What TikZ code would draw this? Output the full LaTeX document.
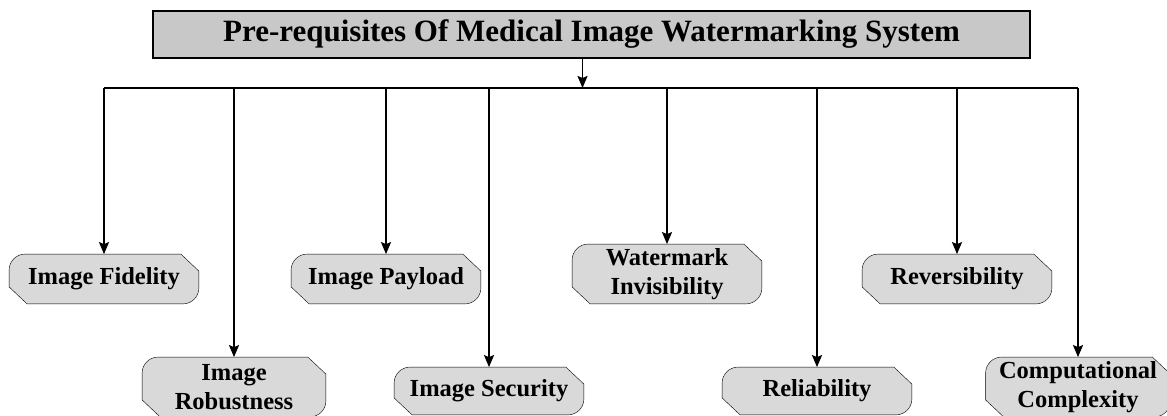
\documentclass[tikz,border=0pt]{standalone}
\usepackage{fontspec}
\setmainfont{Liberation Serif}
\usetikzlibrary{arrows.meta,backgrounds}
\definecolor{reqgray}{RGB}{217,217,217}
\definecolor{headgray}{RGB}{200,200,200}

\begin{document}
\begin{tikzpicture}[%
    x=1pt,y=1pt,->,>={Stealth[length=12pt,width=10pt,inset=2pt]},line width=1.8pt,
    req/.style={%
      minimum width=188pt,minimum height=48pt,inner sep=0pt,align=center,
      font=\fontsize{24.5}{29.5}\selectfont\bfseries},
    tall/.style={minimum height=58pt},
    headbox/.style={%
      draw,fill=headgray,line width=2.4pt,minimum width=877pt,minimum height=47pt,
      inner sep=0pt,font=\fontsize{31}{36}\selectfont\bfseries}
  ]
    \useasboundingbox (0,0) rectangle (1167,-415);

    \node[headbox] (head) at (591.5,-34.5) {Pre-requisites Of Medical Image Watermarking System};

    \node[req] (fid)  at (104,-279)                     {Image Fidelity};
    \node[req] (pay)  at (386,-279)                     {Image Payload};
    \node[req,tall] (inv) at (667,-274)                 {Watermark\\Invisibility};
    \node[req] (rev)  at (957,-279)                     {Reversibility};
    \node[req,tall,minimum width=182pt] (rob) at (234,-387)  {Image\\Robustness};
    \node[req,minimum height=46pt] (sec) at (489,-391)  {Image Security};
    \node[req,minimum height=46pt] (rel) at (817,-391)  {Reliability};
    \node[req,tall,minimum width=183pt] (comp) at (1078,-387) {Computational\\Complexity};

    % outlines: round top-left / bottom-right, cut top-right / bottom-left
    \begin{scope}[on background layer]
      \foreach \n in {fid,pay,inv,rev,rob,sec,rel,comp}
        \draw[-,fill=reqgray] ([xshift=16pt]\n.north west) -- ([xshift=-18pt]\n.north east)
          -- ([yshift=-17pt]\n.north east) -- ([yshift=16pt]\n.south east)
          arc[start angle=0,end angle=-90,radius=16pt] -- ([xshift=18pt]\n.south west)
          -- ([yshift=17pt]\n.south west) -- ([yshift=-16pt]\n.north west)
          arc[start angle=180,end angle=90,radius=16pt] -- cycle;
    \end{scope}

    \coordinate (bus) at (0,-88);
    \draw ([xshift=-9pt]head.south) -- ([xshift=-9pt]head.south |- bus);
    \draw[-] (fid |- bus) -- (comp |- bus);
    \foreach \n in {fid,rob,pay,sec,inv,rel,rev,comp}
      \draw (\n |- bus) -- (\n.north);
  \end{tikzpicture}
\end{document}
